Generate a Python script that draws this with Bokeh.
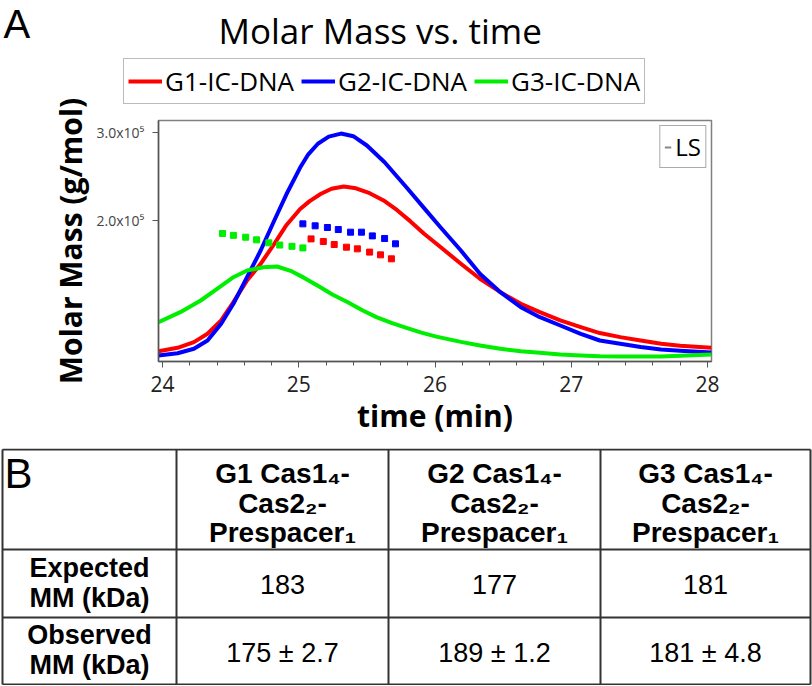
from bokeh.plotting import figure
from bokeh.models import (Range1d, FixedTicker, SingleIntervalTicker, Label, Legend,
                          LegendItem)
from bokeh.embed import file_html
from bokeh.resources import INLINE
from bokeh.core.properties import value

# ---------------- Panel A data ----------------
series_names = ["G1-IC-DNA", "G2-IC-DNA", "G3-IC-DNA"]
series_colors = ["#ff0000", "#0000ff", "#00ee00"]

# LS traces (time in min, value on the molar-mass axis)
g1_t = [23.97, 24.11, 24.23, 24.33, 24.43, 24.52, 24.62, 24.72, 24.82, 24.91, 25.01, 25.08,
        25.16, 25.24, 25.33, 25.42, 25.52, 25.63, 25.72, 25.82, 25.92, 26.04, 26.19, 26.33,
        26.48, 26.63, 26.77, 26.92, 27.07, 27.21, 27.36, 27.51, 27.66, 27.80, 28.03]
g1_y = [52000, 55800, 62200, 71700, 86800, 107500, 132000, 151000, 173600, 195000, 213000,
        222000, 230000, 236000, 238500, 236500, 231000, 222000, 212000, 199000, 185000,
        170000, 151000, 134000, 118800, 105600, 96200, 86800, 79200, 72500, 67900, 64100,
        60400, 58100, 55900]

g2_t = [23.97, 24.11, 24.23, 24.33, 24.43, 24.52, 24.62, 24.72, 24.82, 24.91, 25.01, 25.07,
        25.14, 25.22, 25.31, 25.40, 25.50, 25.63, 25.79, 25.92, 26.04, 26.19, 26.33, 26.48,
        26.63, 26.77, 26.92, 27.07, 27.21, 27.36, 27.51, 27.66, 27.80, 28.03]
g2_y = [47000, 49700, 54700, 64100, 83000, 105700, 135800, 166000, 200000, 230000, 260000,
        275000, 287000, 295000, 298500, 295500, 285000, 266000, 237700, 214000, 192400,
        166000, 139600, 118800, 101800, 90500, 81100, 71700, 64100, 60400, 56800, 53900,
        52400, 50500]

g3_t = [23.97, 24.13, 24.28, 24.40, 24.52, 24.62, 24.74, 24.84, 24.94, 25.04, 25.14, 25.25,
        25.36, 25.47, 25.57, 25.68, 25.79, 25.90, 26.01, 26.19, 26.33, 26.48, 26.63, 26.77,
        26.92, 27.07, 27.21, 27.36, 27.51, 27.66, 27.80, 28.03]
g3_y = [84900, 96200, 109400, 122600, 135800, 143400, 147100, 147900, 143000, 135000,
        126000, 116000, 107500, 98000, 90600, 84000, 78500, 73000, 68500, 62500, 58500,
        54700, 52000, 50200, 48300, 47200, 46300, 46000, 46000, 46000, 46700, 48300]

# Molar mass points
g1_mm_t = [25.09, 25.18, 25.26, 25.35, 25.43, 25.52, 25.60, 25.68]
g1_mm = [179200, 176200, 172800, 169800, 167900, 164200, 161100, 156600]
g2_mm_t = [25.03, 25.12, 25.21, 25.29, 25.38, 25.46, 25.54, 25.63, 25.71]
g2_mm = [196200, 194000, 192100, 189800, 186800, 186800, 182600, 179600, 173600]
g3_mm_t = [24.44, 24.52, 24.61, 24.69, 24.78, 24.86, 24.95, 25.03]
g3_mm = [185300, 183200, 181100, 178100, 174700, 172200, 170800, 169000]

x_tick_interval = 1
y_ticks = [200000, 300000]
y_tick_labels = ["2.0x10\u2075", "3.0x10\u2075"]

# ---------------- Panel B data ----------------
header_line1 = ["G1 Cas1\u2084-", "G2 Cas1\u2084-", "G3 Cas1\u2084-"]
header_line2 = ["Cas2\u2082-", "Cas2\u2082-", "Cas2\u2082-"]
header_line3 = ["Prespacer\u2081", "Prespacer\u2081", "Prespacer\u2081"]
row_line1 = ["Expected", "Observed"]
row_line2 = ["MM (kDa)", "MM (kDa)"]
expected_mm = ["183", "177", "181"]
observed_mm = ["175 \u00b1 2.7", "189 \u00b1 1.2", "181 \u00b1 4.8"]

W = 812
OVERLAP = 16

# ---------------- Header (panel letter, title, series key) ----------------
HH = 112
h = figure(width=W, height=HH, output_backend="svg", toolbar_location=None,
           x_range=Range1d(0, W), y_range=Range1d(HH, 0),
           x_axis_type=None, y_axis_type=None, min_border=0,
           styles={"margin-bottom": "-%dpx" % OVERLAP})
h.grid.visible = False
h.outline_line_color = None
h.background_fill_color = "white"
h.border_fill_color = "white"

# key entries use the same traces as panel A (not visible in this strip)
key_renderers = [h.line(t, y, line_color=c, line_width=4, visible=False)
                 for t, y, c in [(g1_t, g1_y, series_colors[0]),
                                 (g2_t, g2_y, series_colors[1]),
                                 (g3_t, g3_y, series_colors[2])]]
leg = Legend(items=[LegendItem(label=n, renderers=[r])
                    for n, r in zip(series_names, key_renderers)],
             orientation="horizontal", location=(123, 8),
             label_text_font="Open Sans", label_text_font_size="26px",
             label_text_color="#000000", glyph_width=34, glyph_height=34,
             label_height=34, label_standoff=3, spacing=7, padding=4, margin=0,
             border_line_color="#777777", border_line_width=1,
             background_fill_color="white", background_fill_alpha=1.0,
             inactive_fill_alpha=0.0)
h.add_layout(leg, "center")

h.add_layout(Label(x=218, y=30, text="Molar Mass vs. time", text_font="Open Sans",
                   text_font_size="35px", text_color="#000000",
                   text_align="left", text_baseline="alphabetic"))
h.add_layout(Label(x=3, y=23, text="A", text_font="Liberation Sans",
                   text_font_size="40px", text_color="#000000", text_align="left",
                   text_baseline="alphabetic"))

# ---------------- Panel A chart ----------------
HA = 352
p = figure(width=W, height=HA, output_backend="svg", toolbar_location=None,
           x_range=Range1d(23.97, 28.03), y_range=Range1d(40300, 313300),
           min_border_left=158, min_border_right=101, min_border_top=24,
           min_border_bottom=87)
p.grid.visible = False
p.outline_line_color = "#808080"
p.outline_line_width = 1.5
p.background_fill_color = "white"
p.border_fill_alpha = 0.0

for t, y, col in [(g1_t, g1_y, series_colors[0]),
                  (g2_t, g2_y, series_colors[1]),
                  (g3_t, g3_y, series_colors[2])]:
    p.line(t, y, line_color=col, line_width=4, line_join="round")

for t, y, col in [(g1_mm_t, g1_mm, series_colors[0]),
                  (g2_mm_t, g2_mm, series_colors[1]),
                  (g3_mm_t, g3_mm, series_colors[2])]:
    p.scatter(t, y, marker="square", size=6, fill_color=col, line_color=col)

# key for the LS signal (hidden gray trace, shown only in its key)
ls_r = p.line(g1_t, g1_y, line_color="#888888", line_width=2, visible=False)
ls_leg = Legend(items=[LegendItem(label="LS", renderers=[ls_r])],
                location="top_right", margin=5, padding=4, glyph_width=7,
                glyph_height=26, label_height=26, label_standoff=4,
                label_text_font="Open Sans", label_text_font_size="24px",
                label_text_color="#000000", border_line_color="#555555",
                border_line_width=1, background_fill_alpha=1.0,
                inactive_fill_alpha=0.0)
p.add_layout(ls_leg, "center")

xa = p.xaxis[0]
xa.ticker = SingleIntervalTicker(interval=x_tick_interval, num_minor_ticks=5)
xa.axis_label = "time (min)"
xa.axis_label_text_font = "Open Sans"
xa.axis_label_text_font_style = "bold"
xa.axis_label_text_font_size = "30px"
xa.axis_label_text_color = "#000000"
xa.axis_label_standoff = 0
xa.major_label_text_font = "Open Sans"
xa.major_label_text_font_size = "21px"
xa.major_label_text_color = "#222222"
xa.major_label_standoff = 8

ya = p.yaxis[0]
ya.ticker = FixedTicker(ticks=y_ticks, minor_ticks=[])
ya.major_label_overrides = dict(zip(y_ticks, y_tick_labels))
ya.axis_label = "Molar Mass (g/mol)"
ya.axis_label_text_font = "Open Sans"
ya.axis_label_text_font_style = "bold"
ya.axis_label_text_font_size = "30px"
ya.axis_label_text_color = "#000000"
ya.axis_label_standoff = 3
ya.major_label_text_font = "Open Sans"
ya.major_label_text_font_size = "14px"
ya.major_label_text_color = "#444444"
ya.major_label_standoff = 8

for ax in (xa, ya):
    ax.axis_line_color = "#555555"
    ax.axis_line_width = 1.5
    ax.major_tick_line_color = "#555555"
    ax.minor_tick_line_color = "#555555"
    ax.major_tick_in = 0
    ax.major_tick_out = 6
    ax.minor_tick_in = 0
    ax.minor_tick_out = 4

# ---------------- Panel B (table) ----------------
HB = 237
q = figure(width=W, height=HB, output_backend="svg", toolbar_location=None,
           x_range=Range1d(0, W), y_range=Range1d(HB, 0),
           x_axis_type=None, y_axis_type=None, min_border=0)
q.grid.visible = False
q.outline_line_color = None
q.background_fill_color = "white"
q.border_fill_color = "white"

col_edges = [2, 176, 388, 600, 810]
row_edges = [1, 101, 169, 236]
q.segment(x0=col_edges, y0=[row_edges[0]] * len(col_edges),
          x1=col_edges, y1=[row_edges[-1]] * len(col_edges),
          line_color="#333333", line_width=2)
q.segment(x0=[col_edges[0]] * len(row_edges), y0=row_edges,
          x1=[col_edges[-1]] * len(row_edges), y1=row_edges,
          line_color="#333333", line_width=2)

col_centers = [(col_edges[i] + col_edges[i + 1]) / 2 for i in range(1, 4)]
first_center = (col_edges[0] + col_edges[1]) / 2

font = value("Liberation Sans")
for lines, yb in [(header_line1, 25), (header_line2, 55), (header_line3, 84)]:
    q.text(x=col_centers, y=[yb] * 3, text=lines, text_font=font,
           text_font_style="bold", text_font_size="28px", text_color="#000000",
           text_align="center", text_baseline="alphabetic")

q.text(x=[first_center] * 2, y=[119, 186], text=row_line1, text_font=font,
       text_font_style="bold", text_font_size="27px", text_color="#000000",
       text_align="center", text_baseline="alphabetic")
q.text(x=[first_center] * 2, y=[149, 216], text=row_line2, text_font=font,
       text_font_style="bold", text_font_size="27px", text_color="#000000",
       text_align="center", text_baseline="alphabetic")

q.text(x=col_centers, y=[136] * 3, text=expected_mm, text_font=font,
       text_font_size="27px", text_color="#000000",
       text_align="center", text_baseline="alphabetic")
q.text(x=col_centers, y=[204] * 3, text=observed_mm, text_font=font,
       text_font_size="27px", text_color="#000000",
       text_align="center", text_baseline="alphabetic")

q.add_layout(Label(x=4, y=25, text="B", text_font="Liberation Sans",
                   text_font_size="42px", text_color="#000000",
                   text_align="left", text_baseline="alphabetic"))

open("out.html", "w").write(file_html([h, p, q], INLINE))
